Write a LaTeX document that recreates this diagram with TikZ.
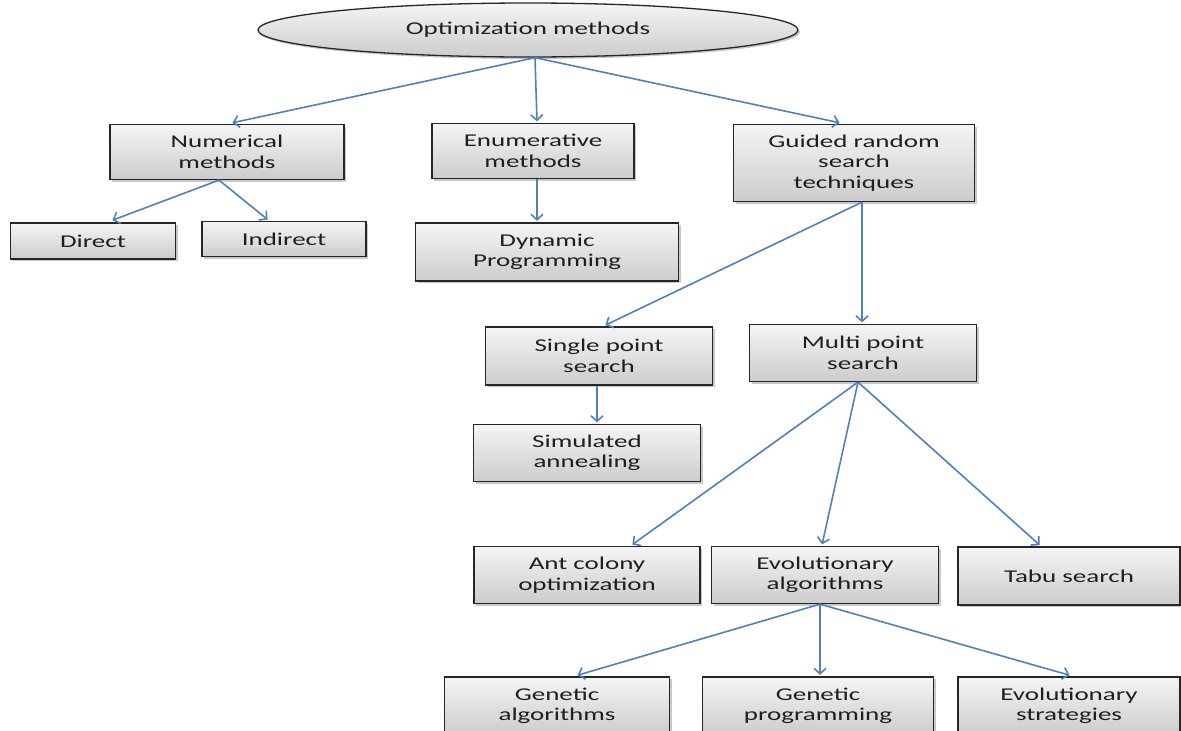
\documentclass[tikz,border=0pt]{standalone}
\usepackage{fontspec}
\setmainfont{Carlito}[FakeStretch=1.5]
\usetikzlibrary{arrows.meta,shapes.geometric,shadows}
\definecolor{arrblue}{HTML}{4F81BD}
\definecolor{boxline}{HTML}{262626}
\tikzset{
  box/.style={draw=boxline, line width=1.3pt, rectangle, top color=gray!8, bottom color=gray!40,
    drop shadow={shadow xshift=2pt, shadow yshift=-2pt, fill=gray!70, opacity=0.6},
    align=center, inner sep=0pt, text=black!88,
    font=\fontsize{18}{20.5}\selectfont},
  oval/.style={box, ellipse},
  arr/.style={draw=arrblue, line width=1.6pt, -{Straight Barb[length=5.5pt,width=12pt]}, shorten >=0.5pt}
}
\begin{document}
\begin{tikzpicture}[x=1pt,y=-1pt]
\clip (0,0) rectangle (1181,731);
\fill[white] (0,0) rectangle (1181,731);
\node[oval, minimum width=540pt, minimum height=54pt] (top) at (528,30) {Optimization methods};
\node[box, minimum width=234pt, minimum height=55pt] (num) at (227,152) {Numerical\\methods};
\node[box, minimum width=202pt, minimum height=55pt] (enum) at (533,151) {Enumerative\\methods};
\node[box, minimum width=241pt, minimum height=77pt] (guided) at (854,163) {Guided random\\search\\techniques};
\node[box, minimum width=165pt, minimum height=36pt] (direct) at (93,241) {Direct};
\node[box, minimum width=164pt, minimum height=35pt] (indirect) at (284,239) {Indirect};
\node[box, minimum width=263pt, minimum height=58pt] (dyn) at (547,252) {Dynamic\\Programming};
\node[box, minimum width=227pt, minimum height=58pt] (single) at (599,356) {Single point\\search};
\node[box, minimum width=227pt, minimum height=57pt] (multi) at (863,353) {Multi point\\search};
\node[box, minimum width=227pt, minimum height=57pt] (sim) at (587,453) {Simulated\\annealing};
\node[box, minimum width=226pt, minimum height=57pt] (ant) at (587,575) {Ant colony\\optimization};
\node[box, minimum width=227pt, minimum height=57pt] (evo) at (825,575) {Evolutionary\\algorithms};
\node[box, minimum width=222pt, minimum height=58pt] (tabu) at (1069,576) {Tabu search};
\node[box, minimum width=225pt, minimum height=58pt] (ga) at (557,706) {Genetic\\algorithms};
\node[box, minimum width=231pt, minimum height=58pt] (gp) at (818,706) {Genetic\\programming};
\node[box, minimum width=222pt, minimum height=58pt] (es) at (1069,706) {Evolutionary\\strategies};

\draw[arr] ([xshift=7pt]top.south) -- ([xshift=5pt,yshift=1pt]num.north);
\draw[arr] ([xshift=7pt]top.south) -- ([xshift=4pt,yshift=1pt]enum.north);
\draw[arr] ([xshift=7pt]top.south) -- ([xshift=-14pt,yshift=1pt]guided.north);
\draw[arr] ([xshift=-8pt]num.south) -- ([xshift=19pt,yshift=2pt]direct.north);
\draw[arr] ([xshift=-8pt]num.south) -- ([xshift=-16pt,yshift=1pt]indirect.north);
\draw[arr] ([xshift=4pt]enum.south) -- ([xshift=-10pt,yshift=1pt]dyn.north);
\draw[arr] ([xshift=8pt]guided.south) -- ([xshift=6pt,yshift=1pt]single.north);
\draw[arr] ([xshift=8pt]guided.south) -- ([xshift=-1pt,yshift=1pt]multi.north);
\draw[arr] ([xshift=-2pt]single.south) -- ([xshift=10pt,yshift=1pt]sim.north);
\draw[arr] ([xshift=-5pt]multi.south) -- ([xshift=45pt,yshift=1pt]ant.north);
\draw[arr] ([xshift=-5pt]multi.south) -- ([xshift=-3pt,yshift=1pt]evo.north);
\draw[arr] ([xshift=-5pt]multi.south) -- ([xshift=-29pt,yshift=1pt]tabu.north);
\draw[arr] ([xshift=-5pt]evo.south) -- ([xshift=20pt,yshift=1pt]ga.north);
\draw[arr] ([xshift=-5pt]evo.south) -- ([xshift=2pt,yshift=1pt]gp.north);
\draw[arr] ([xshift=-5pt]evo.south) -- ([xshift=1pt,yshift=1pt]es.north);
\end{tikzpicture}
\end{document}
